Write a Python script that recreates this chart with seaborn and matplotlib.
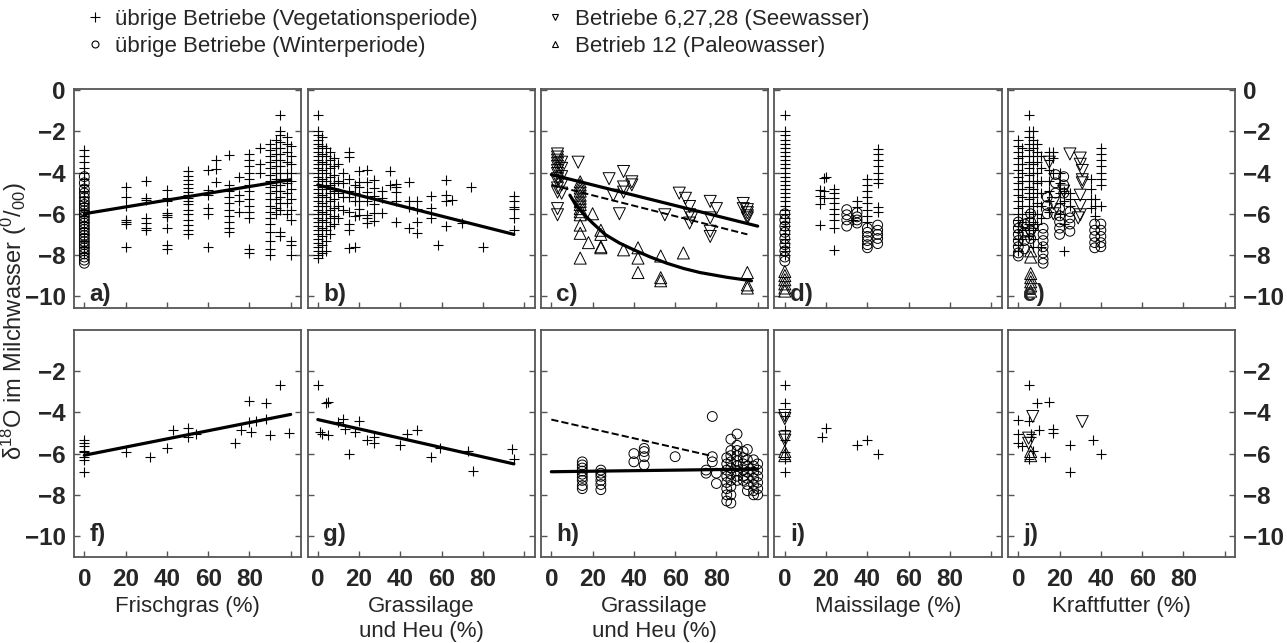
import matplotlib
matplotlib.use("Agg")
import matplotlib.pyplot as plt
import pandas as pd
import seaborn as sns
from matplotlib.lines import Line2D

# --- data: (x, [y values]) columns ---
a_veg = [(0, [-2.9, -3.2, -3.5, -3.8, -4.0, -4.3, -4.6, -4.9, -5.2, -5.5, -5.8, -6.1, -6.4, -6.7, -7.0, -7.3, -7.6, -7.9]),
         (20, [-4.7, -5.2, -5.6, -6.3, -6.4, -6.5, -7.6]),
         (30, [-4.4, -5.25, -5.35, -6.2, -6.45, -6.7, -6.8]),
         (40, [-4.85, -5.25, -5.4, -5.95, -6.05, -6.15, -6.7, -7.5, -7.7]),
         (50, [-3.95, -4.15, -4.35, -4.55, -4.75, -4.95, -5.1, -5.25, -5.4, -5.55, -5.8, -6.0, -6.3, -6.55, -6.8, -7.0]),
         (60, [-3.9, -4.85, -5.1, -5.7, -6.0, -7.6]),
         (64, [-3.4, -3.85, -4.45]),
         (70, [-3.15, -4.6, -4.9, -5.2, -5.5, -5.8, -6.1, -6.4, -6.7, -6.9]),
         (75, [-4.2, -5.1, -5.4, -5.9]),
         (80, [-3.1, -3.4, -3.7, -4.0, -4.3, -4.6, -4.9, -5.3, -5.6, -5.9, -6.2, -7.7, -7.9]),
         (85, [-2.8, -3.6, -4.0]),
         (90, [-2.6, -2.9, -3.2, -3.5, -3.8, -4.1, -4.4, -4.7, -5.0, -5.3, -5.6, -5.9, -6.2, -6.5, -6.9, -7.3, -7.7, -8.0]),
         (93, [-2.4, -2.8, -3.1, -3.4, -3.7, -4.0, -4.3, -4.6, -4.9, -5.3, -5.7, -6.0]),
         (95, [-1.2, -2.0, -2.2, -2.5, -2.8, -3.1, -3.4, -3.7, -4.0, -4.3, -4.6, -4.9, -5.2, -5.5, -5.8, -6.9, -7.1]),
         (98, [-2.3, -2.6, -3.0, -3.5, -4.0, -4.5, -5.0, -5.5, -6.0]),
         (100, [-2.7, -3.2, -3.6, -4.0, -4.4, -4.8, -5.3, -5.8, -6.3, -7.3, -7.5, -8.0])]
a_win = [(0, [-4.2, -4.5, -4.8, -5.0, -5.2, -5.4, -5.55, -5.7, -5.85, -6.0, -6.15, -6.3, -6.45, -6.6, -6.75,
              -6.9, -7.05, -7.2, -7.35, -7.5, -7.65, -7.8, -7.95, -8.1, -8.25, -8.4])]

b_veg = [(0, [-1.2, -2.0, -2.2, -2.4, -2.6, -2.8, -3.0, -3.2, -3.4, -3.6, -3.8, -4.0, -4.2, -4.4, -4.6, -4.8, -5.0,
              -5.2, -5.4, -5.6, -5.8, -6.0, -6.2, -6.4, -6.6, -6.8, -7.0, -7.2, -7.4, -7.6, -7.8, -8.0, -8.15]),
         (2, [-2.3, -2.7, -3.1, -3.5, -3.9, -4.3, -4.7, -5.1, -5.5, -5.9, -6.3, -6.7, -7.1, -7.5, -7.9]),
         (4, [-2.8, -3.2, -3.6, -4.0, -4.4, -4.8, -5.2, -5.6, -6.0, -6.4, -6.8, -7.3, -7.8]),
         (6, [-3.0, -3.4, -3.8, -4.2, -4.6, -5.0, -5.4, -5.8, -6.2, -6.6, -7.0]),
         (8, [-3.3, -3.7, -4.1, -4.5, -4.9, -5.3, -5.7, -6.1, -6.5]),
         (10, [-3.6, -4.4, -5.0, -5.6, -6.2]),
         (12, [-4.0, -4.5, -5.2, -5.8]),
         (15, [-3.0, -3.25, -4.3, -4.9, -5.2, -5.9, -6.5, -6.8, -7.65]),
         (18, [-4.6, -5.0, -5.4, -6.1, -7.6]),
         (20, [-3.95, -4.45, -4.7, -5.1, -5.4, -5.75, -6.05]),
         (24, [-3.9, -4.45, -4.95, -5.4, -6.05, -6.2, -6.45]),
         (27, [-4.35, -4.75, -5.15, -5.55, -5.95, -6.35]),
         (31, [-4.9, -5.25, -5.95]),
         (35, [-3.95, -4.6]),
         (38, [-4.55, -4.7, -4.95, -5.4, -6.4]),
         (44, [-4.45, -5.4, -5.65, -6.7]),
         (48, [-5.4, -5.75, -6.4, -6.95]),
         (55, [-5.15, -5.7, -6.2]),
         (58, [-7.5]),
         (62, [-4.35, -5.1, -5.4, -6.6]),
         (65, [-5.35]),
         (70, [-6.45]),
         (74, [-4.7]),
         (80, [-7.6]),
         (95, [-5.15, -5.4, -5.65, -5.75, -6.2, -6.8])]

c_see = [(3, [-3.1, -3.25, -3.4, -3.55, -3.7, -3.9, -4.05, -4.3, -4.45, -4.75, -4.95, -5.75, -6.05]),
         (5, [-3.5, -3.8, -4.2, -4.6, -5.0]),
         (13, [-3.5]), (28, [-4.3]), (30, [-5.1]), (33, [-6.0]), (35, [-3.95, -4.7, -4.95]),
         (39, [-4.45, -4.6]), (55, [-6.05]), (62, [-5.0]), (65, [-5.25]), (67, [-5.65, -6.05, -6.45]),
         (68, [-6.2]), (77, [-5.4, -6.2, -6.85, -7.1]), (80, [-5.75]), (93, [-5.5, -5.75]),
         (95, [-5.8, -5.95, -6.1, -6.2])]
c_paleo = [(14, [-4.45, -4.6, -4.75, -4.9, -5.1, -5.25, -5.4, -5.55, -5.75, -5.9, -6.05, -6.55, -6.95, -8.15]),
           (18, [-7.4]), (20, [-6.0]), (24, [-6.8, -7.0, -7.6, -7.65]), (35, [-7.75]),
           (42, [-7.65, -8.15, -8.85]), (53, [-8.05, -9.1, -9.25]), (64, [-7.9]), (95, [-8.85, -9.45, -9.6])]

d_veg = [(0, [-1.2, -2.0, -2.2, -2.4, -2.6, -2.8, -3.0, -3.2, -3.4, -3.6, -3.8, -4.0, -4.2, -4.4, -4.6, -4.8, -5.0,
              -5.2, -5.4, -5.6, -5.8, -6.0, -6.2, -6.4, -6.6, -6.8, -7.0, -7.2, -7.4, -7.6, -7.8, -8.0]),
         (17, [-4.85, -5.15, -5.55, -6.55]), (19, [-4.25, -4.9, -5.25]), (20, [-4.2]),
         (24, [-4.8, -5.0, -5.25, -5.5, -5.75, -6.0, -6.3, -6.7, -7.75]), (33, [-6.3]), (35, [-5.4, -5.65]),
         (40, [-4.3, -4.6, -4.9, -5.2, -5.5, -5.8, -6.1, -6.4]),
         (45, [-2.85, -3.1, -3.4, -3.7, -4.0, -4.3, -4.5, -5.65, -5.9])]
d_win = [(0, [-6.0, -6.3, -6.6, -6.9, -7.2, -7.5, -7.8, -8.1, -8.3]), (30, [-5.8, -6.05, -6.3, -6.6]),
         (35, [-5.95, -6.15, -6.3, -6.45]), (40, [-6.7, -6.9, -7.1, -7.3, -7.5, -7.65]),
         (45, [-6.55, -6.8, -7.0, -7.2, -7.45])]
d_paleo = [(0, [-8.8, -9.0, -9.2, -9.4, -9.6, -9.75])]

e_veg = [(0, [-2.4, -2.7, -3.0, -3.3, -3.6, -3.9, -4.2, -4.5, -4.8, -5.1, -5.4, -5.7, -6.0, -6.3, -6.6, -6.9, -7.2, -7.5, -7.8]),
         (2, [-2.8, -3.2, -3.6, -4.0, -4.4, -4.8, -5.2, -5.6, -6.0, -6.4, -6.8, -7.2]),
         (5, [-1.2, -2.0, -2.3, -2.6, -2.9, -3.2, -3.5, -3.8, -4.1, -4.4, -4.7, -5.0, -5.3, -5.6, -5.9, -6.2, -6.5, -6.8, -7.1]),
         (7, [-2.0, -2.4, -2.8, -3.2, -3.6, -4.0, -4.4, -4.8, -5.2, -5.6, -6.0, -6.4, -6.8, -7.2, -7.6]),
         (9, [-2.6, -3.0, -3.5, -4.0, -4.5, -5.0, -5.5, -6.0, -6.5]),
         (11, [-3.2, -3.8, -4.4, -5.0, -5.6, -6.2, -7.6]),
         (15, [-3.0, -3.4, -3.9, -4.4, -4.9, -5.4, -5.9]),
         (17, [-3.0, -3.3, -4.0]), (20, [-4.0, -4.5, -5.0, -5.5, -6.0]), (22, [-4.9, -5.4, -6.5, -7.8]),
         (25, [-5.0, -5.3, -5.6]), (35, [-4.3, -4.8, -5.3, -5.7]), (37, [-5.3, -5.6, -6.1]),
         (40, [-2.8, -3.1, -3.4, -3.7, -4.0, -4.3, -4.6, -5.6])]
e_win = [(0, [-6.4, -6.7, -7.0, -7.3, -7.6, -7.9, -8.05]), (3, [-6.5, -6.9, -7.3, -7.7]), (6, [-6.0, -6.4, -6.8, -7.2]),
         (12, [-6.7, -7.0, -7.3, -7.6, -7.9, -8.2, -8.4]), (14, [-5.2, -5.6, -6.0]), (18, [-4.1, -4.5, -5.0]),
         (20, [-5.75, -6.1, -6.4, -6.7, -7.0]), (22, [-4.2, -4.6, -5.0]), (25, [-5.9, -6.2, -6.5, -6.85]),
         (37, [-6.5, -6.8, -7.1, -7.4, -7.65]), (40, [-6.5, -6.8, -7.1, -7.4, -7.6])]
e_see = [(6, [-7.0]), (15, [-3.5]), (17, [-5.5, -6.0]), (22, [-4.9]), (25, [-3.1]), (29, [-6.2]),
         (30, [-3.3, -3.6, -5.1, -5.6, -6.05]), (31, [-3.9, -4.35, -4.5])]
e_paleo = [(6, [-7.8, -8.1, -8.9, -9.1, -9.3, -9.5, -9.75])]

f_veg = [(0, [-5.35, -5.5, -5.65, -5.85, -5.9, -6.15, -6.3, -6.9]), (20, [-5.9]), (32, [-6.15]), (40, [-5.75]),
         (43, [-4.85]), (50, [-4.75, -5.2]), (54, [-5.05]), (73, [-5.5]), (76, [-4.85]), (80, [-3.45, -4.45]),
         (81, [-4.95]), (83, [-4.4]), (88, [-4.3, -3.55]), (90, [-5.1]), (95, [-2.65]), (99, [-5.0])]

g_veg = [(0, [-2.65]), (1, [-4.95]), (2, [-5.05]), (4, [-3.55]), (5, [-3.5, -5.1]), (10, [-4.45]), (12, [-4.3]),
         (13, [-4.8]), (15, [-6.0]), (18, [-4.95]), (20, [-4.4]), (24, [-5.35]), (27, [-5.2, -5.5]),
         (40, [-5.6]), (43, [-5.05]), (48, [-4.85]), (55, [-6.15]), (59, [-5.75]), (73, [-5.85]),
         (75, [-6.85]), (94, [-5.8]), (95, [-6.25])]

h_win = [(15, [-6.4, -6.55, -6.7, -6.85, -7.0, -7.15, -7.3, -7.55, -7.7]),
         (24, [-6.8, -6.95, -7.1, -7.3, -7.5, -7.75]), (40, [-6.0, -6.4]), (45, [-5.75, -5.9, -6.15, -6.55]),
         (60, [-6.15]), (75, [-6.8, -6.95]), (78, [-4.2, -6.15, -6.4]), (80, [-6.95, -7.45]),
         (85, [-6.2, -6.5, -6.8, -7.1, -7.4, -7.7, -8.0, -8.3]),
         (87, [-5.3, -5.85, -6.1, -6.4, -6.7, -7.0, -7.3, -7.6, -8.0, -8.4]),
         (90, [-5.05, -5.6, -5.85, -6.1, -6.35, -6.6, -6.85, -7.1, -7.3]),
         (93, [-5.9, -6.2, -6.5, -6.8, -7.1, -7.3]), (95, [-5.8, -6.3, -6.6, -6.9, -7.2, -7.5, -7.8]),
         (98, [-6.3, -6.6, -6.9, -7.2, -7.5, -7.8, -8.0]), (100, [-6.5, -6.8, -7.1, -7.4, -7.7, -8.0])]

i_veg = [(0, [-2.65, -3.55, -4.2, -4.85, -5.35, -5.9, -6.25, -6.9]), (18, [-5.2]), (20, [-4.75]),
         (35, [-5.6]), (40, [-5.35]), (45, [-6.0])]
i_see = [(0, [-4.15, -4.3, -5.2, -5.35])]
i_paleo = [(0, [-5.9, -6.1])]

j_veg = [(0, [-4.35, -5.05, -5.5]), (2, [-5.65]), (5, [-2.65, -4.4, -6.25]), (6, [-5.05, -5.2]), (7, [-5.85]),
         (9, [-3.55]), (10, [-4.85]), (13, [-6.15]), (15, [-3.5]), (17, [-4.8, -5.0]), (25, [-5.6, -6.9]),
         (36, [-5.35]), (40, [-6.0])]
j_see = [(5, [-5.25, -5.5]), (7, [-4.2]), (31, [-4.45])]
j_paleo = [(6, [-5.9, -6.1])]

# regression lines
fit_a_x, fit_a_y = [0, 100], [-6.0, -4.35]
fit_b_x, fit_b_y = [0, 95], [-4.6, -7.0]
fit_c_see_x, fit_c_see_y = [0, 100], [-4.1, -6.6]
fit_c_pal_x = [9, 12, 16, 20, 26, 33, 40, 48, 56, 64, 72, 85, 97]
fit_c_pal_y = [-5.1, -5.6, -6.05, -6.45, -7.0, -7.42, -7.75, -8.1, -8.4, -8.65, -8.85, -9.08, -9.25]
fit_f_x, fit_f_y = [0, 100], [-6.08, -4.1]
fit_g_x, fit_g_y = [0, 95], [-4.35, -6.5]
fit_g_short_x, fit_g_short_y = [0, 78], [-4.35, -6.12]
fit_h_x, fit_h_y = [0, 100], [-6.88, -6.75]

panel_letters = ["a)", "b)", "c)", "d)", "e)", "f)", "g)", "h)", "i)", "j)"]
xlabels = ["Frischgras (%)", "Grassilage\nund Heu (%)", "Grassilage\nund Heu (%)", "Maissilage (%)", "Kraftfutter (%)"]
legend_labels = ["übrige Betriebe (Vegetationsperiode)", "übrige Betriebe (Winterperiode)",
                 "Betriebe 6,27,28 (Seewasser)", "Betrieb 12 (Paleowasser)"]
top_yticks = [0, -2, -4, -6, -8, -10]
bottom_yticks = [-2, -4, -6, -8, -10]
xticks = [0, 20, 40, 60, 80, 100]


def expand(cols):
    xs, ys = [], []
    for x, yl in cols:
        xs += [x] * len(yl)
        ys += yl
    return pd.DataFrame({"x": xs, "y": ys})


def tick_text(v):
    return str(v).replace("-", "\u2212")


sns.set_style("ticks")
plt.rcParams["font.family"] = ["Liberation Sans", "DejaVu Sans"]
plt.rcParams["mathtext.default"] = "regular"

style = {
    "veg": dict(marker="+", s=62, color="black", linewidth=0.8),
    "win": dict(marker="o", s=50, facecolor="none", edgecolor="black", linewidth=0.7),
    "see": dict(marker="v", s=75, facecolor="none", edgecolor="black", linewidth=0.7),
    "paleo": dict(marker="^", s=75, facecolor="none", edgecolor="black", linewidth=0.7),
}

panels = [
    [("veg", a_veg), ("win", a_win)],
    [("veg", b_veg)],
    [("see", c_see), ("paleo", c_paleo)],
    [("veg", d_veg), ("win", d_win), ("paleo", d_paleo)],
    [("veg", e_veg), ("win", e_win), ("see", e_see), ("paleo", e_paleo)],
    [("veg", f_veg)],
    [("veg", g_veg)],
    [("win", h_win)],
    [("veg", i_veg), ("see", i_see), ("paleo", i_paleo)],
    [("veg", j_veg), ("see", j_see), ("paleo", j_paleo)],
]

fig, axes = plt.subplots(2, 5, figsize=(12.87, 6.43), dpi=100,
                         gridspec_kw=dict(left=0.0575, right=0.9596, top=0.8616, bottom=0.1342,
                                          wspace=0.0286, hspace=0.1, height_ratios=[10.6, 11]))

for k, ax in enumerate(axes.flat):
    for kind, cols in panels[k]:
        df = expand(cols)
        sns.scatterplot(data=df, x="x", y="y", ax=ax, legend=False, **style[kind])

lw = 2.3
sns.lineplot(x=fit_a_x, y=fit_a_y, ax=axes[0, 0], color="black", lw=lw)
sns.lineplot(x=fit_b_x, y=fit_b_y, ax=axes[0, 1], color="black", lw=lw)
sns.lineplot(x=fit_c_see_x, y=fit_c_see_y, ax=axes[0, 2], color="black", lw=lw)
sns.lineplot(x=fit_b_x, y=fit_b_y, ax=axes[0, 2], color="black", lw=1.4, linestyle="--")
sns.lineplot(x=fit_c_pal_x, y=fit_c_pal_y, ax=axes[0, 2], color="black", lw=lw)
sns.lineplot(x=fit_f_x, y=fit_f_y, ax=axes[1, 0], color="black", lw=lw)
sns.lineplot(x=fit_g_x, y=fit_g_y, ax=axes[1, 1], color="black", lw=lw)
sns.lineplot(x=fit_g_short_x, y=fit_g_short_y, ax=axes[1, 2], color="black", lw=1.4, linestyle="--")
sns.lineplot(x=fit_h_x, y=fit_h_y, ax=axes[1, 2], color="black", lw=lw)

for k, ax in enumerate(axes.flat):
    row, col = divmod(k, 5)
    ax.set_xlim(-5, 105)
    ax.set_xticks(xticks)
    ax.set_xticklabels([tick_text(v) if v < 100 else "" for v in xticks])
    yt = top_yticks if row == 0 else bottom_yticks
    ax.set_ylim((-10.55, 0.05) if row == 0 else (-11, 0))
    ax.set_yticks(yt)
    ax.set_yticklabels([tick_text(v) for v in yt])
    ax.tick_params(axis="both", direction="in", length=4, width=1, color="#555555", labelsize=17.5)
    ax.tick_params(axis="y", left=True, right=True, labelleft=(col == 0), labelright=(col == 4))
    ax.tick_params(axis="y", which="major", pad=6)
    ax.tick_params(axis="x", labelbottom=(row == 1), pad=8)
    for lab in ax.get_xticklabels() + ax.get_yticklabels():
        lab.set_fontweight("bold")
    for sp in ax.spines.values():
        sp.set_visible(True)
        sp.set_color("#555555")
        sp.set_linewidth(1.3)
    ax.set_xlabel(xlabels[col] if row == 1 else "", fontsize=16, labelpad=4, linespacing=1.2)
    ax.set_ylabel("")
    ax.text(2.5, -9.9, panel_letters[k], fontsize=17.5, fontweight="bold", ha="left", va="center")

fig.text(0.0105, 0.50, r"δ$^{18}$O im Milchwasser ($^{0}$/$_{00}$)", rotation=90,
         ha="center", va="center", fontsize=17)

handles = [
    Line2D([], [], ls="none", marker="+", color="black", markersize=7, mew=0.8),
    Line2D([], [], ls="none", marker="o", mfc="none", mec="black", markersize=5, mew=0.8),
    Line2D([], [], ls="none", marker="v", mfc="none", mec="black", markersize=5, mew=0.8),
    Line2D([], [], ls="none", marker="^", mfc="none", mec="black", markersize=5, mew=0.8),
]
for i, x0 in enumerate([0.0668, 0.4243]):
    fig.legend(handles=handles[2 * i:2 * i + 2], labels=legend_labels[2 * i:2 * i + 2], loc="upper left",
               bbox_to_anchor=(x0, 0.986), frameon=False, fontsize=16, handlelength=0.8,
               handletextpad=0.5, labelspacing=0.25, borderaxespad=0, borderpad=0)

fig.savefig("out.png", dpi=100)
